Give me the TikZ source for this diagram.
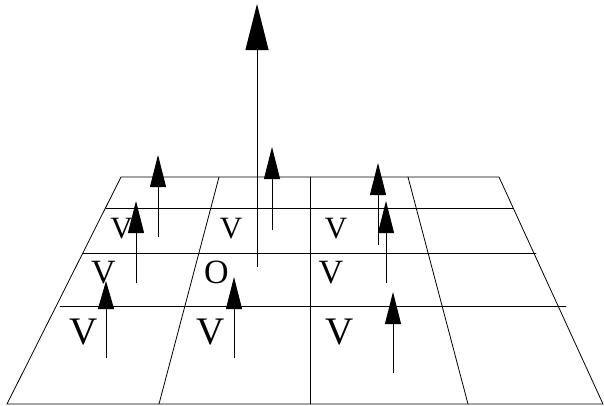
\documentclass[tikz,border=0pt]{standalone}
\usepackage{fontspec}
\setmainfont{Liberation Serif}
\usetikzlibrary{arrows.meta}
\begin{document}
\begin{tikzpicture}[x=1pt,y=-1pt,
  gridline/.style={line width=0.8pt, line cap=round},
  vec/.style={line width=0.9pt, -{Triangle[length=32pt,width=16pt]}},
  bigvec/.style={line width=0.9pt, -{Triangle[length=46pt,width=23pt]}},
  lbl/.style={inner sep=0pt, anchor=base},
  rowa/.style={lbl, font=\fontsize{31}{31}\selectfont},
  rowb/.style={lbl, font=\fontsize{34}{34}\selectfont},
  rowc/.style={lbl, font=\fontsize{39}{39}\selectfont}]
\useasboundingbox (0,0) rectangle (604,405);
% grid corners
\coordinate (tl) at (121,177); \coordinate (tr) at (499,177);
\coordinate (bl) at (7,404);   \coordinate (br) at (603,404);
\coordinate (r1l) at (106,208); \coordinate (r1r) at (513,208);
\coordinate (r2l) at (83,253);  \coordinate (r2r) at (536,253);
\coordinate (r3l) at (60,306);  \coordinate (r3r) at (566,306);
\coordinate (c1t) at (219,177); \coordinate (c1b) at (159,404);
\coordinate (c2t) at (310,177); \coordinate (c2b) at (310,404);
\coordinate (c3t) at (408,177); \coordinate (c3b) at (468,404);
\draw[gridline] (tl) -- (tr) -- (br) -- (bl) -- cycle;
\draw[gridline] (r1l) -- (r1r);
\draw[gridline] (r2l) -- (r2r);
\draw[gridline] (r3l) -- (r3r);
\draw[gridline] (c1t) -- (c1b);
\draw[gridline] (c2t) -- (c2b);
\draw[gridline] (c3t) -- (c3b);
% labels
\node[rowa] (va1) at (121.5,238) {V};
\node[rowa] (va2) at (231,238) {V};
\node[rowa] (va3) at (336,238) {V};
\node[rowb] (vb1) at (103.5,283) {V};
\node[rowb] (ob)  at (216.5,283.5) {O};
\node[rowb] (vb3) at (331,283) {V};
\node[rowc] (vc1) at (83.5,344) {V};
\node[rowc] (vc2) at (211,344) {V};
\node[rowc] (vc3) at (340,344) {V};
% arrows
\coordinate (a0s) at (257,267); \coordinate (a0e) at (257,4);
\coordinate (a1s) at (158,237); \coordinate (a1e) at (158,155);
\coordinate (a2s) at (272,230); \coordinate (a2e) at (272,147);
\coordinate (a3s) at (136,283); \coordinate (a3e) at (136,201);
\coordinate (a4s) at (106,358); \coordinate (a4e) at (106,281);
\coordinate (a5s) at (234,358); \coordinate (a5e) at (234,277);
\coordinate (a6s) at (378,245); \coordinate (a6e) at (378,163);
\coordinate (a7s) at (386,283); \coordinate (a7e) at (386,201);
\coordinate (a8s) at (393,373); \coordinate (a8e) at (393,292);
\draw[bigvec] (a0s) -- (a0e);
\draw[vec] (a1s) -- (a1e);
\draw[vec] (a2s) -- (a2e);
\draw[vec] (a3s) -- (a3e);
\draw[vec, -{Triangle[length=28pt,width=16pt]}] (a4s) -- (a4e);
\draw[vec] (a5s) -- (a5e);
\draw[vec] (a6s) -- (a6e);
\draw[vec] (a7s) -- (a7e);
\draw[vec] (a8s) -- (a8e);
\end{tikzpicture}
\end{document}
